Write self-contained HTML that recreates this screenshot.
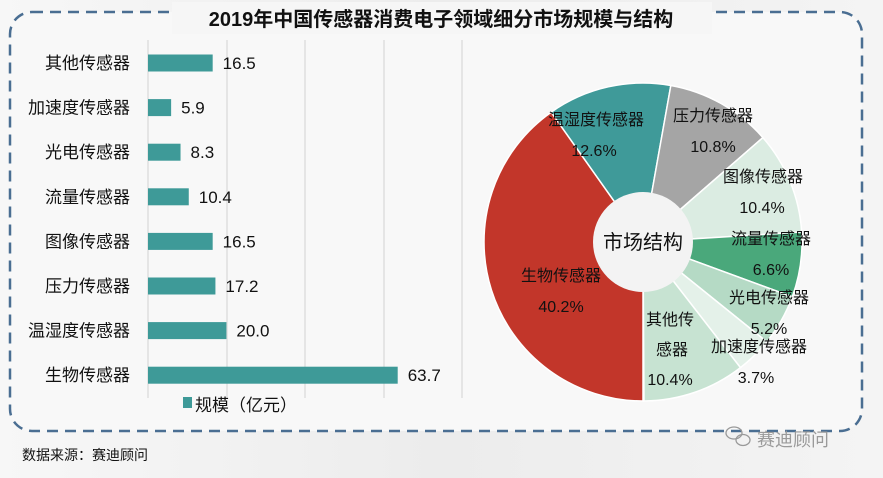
<!DOCTYPE html>
<html><head><meta charset="utf-8"><style>
html,body{margin:0;padding:0;width:883px;height:478px;overflow:hidden;background:#f1f1f1;}
svg{display:block;font-family:"Liberation Sans","Noto Sans CJK SC",sans-serif;}
</style></head><body>
<svg id="s" width="883" height="478" viewBox="0 0 883 478" xmlns="http://www.w3.org/2000/svg">
<defs><linearGradient id="bg" x1="0" y1="0" x2="1" y2="0">
<stop offset="0" stop-color="#f7f7f7"/><stop offset="0.5" stop-color="#ececec"/><stop offset="1" stop-color="#f4f4f4"/></linearGradient></defs>
<rect width="883" height="478" fill="url(#bg)"/>
<rect x="10" y="12" width="852" height="419" rx="22" fill="#f8f8f8" stroke="#4a6e92" stroke-width="2.5" stroke-dasharray="11 7"/>
<rect x="172" y="2" width="540" height="32" fill="#f6f6f6"/>
<text x="441" y="26" text-anchor="middle" font-size="20" font-weight="bold" fill="#111">2019年中国传感器消费电子领域细分市场规模与结构</text>
<g stroke="#d2d2d2" stroke-width="1">
<line x1="148" y1="40" x2="148" y2="398"/><line x1="227" y1="40" x2="227" y2="398"/>
<line x1="305" y1="40" x2="305" y2="398"/><line x1="384" y1="40" x2="384" y2="398"/><line x1="462" y1="40" x2="462" y2="398"/>
</g>
<g id="bars" font-size="17" fill="#111"></g>
<rect x="183" y="397" width="9" height="11" fill="#3e9a98"/>
<text x="195" y="411" font-size="17" fill="#111">规模（亿元）</text>
<g id="pie"></g>
<circle cx="643" cy="242" r="50" fill="#f3f3f3"/>
<text x="643" y="249" text-anchor="middle" font-size="20" fill="#111">市场结构</text>
<g font-size="16" fill="#111" text-anchor="middle">
<text x="596" y="125">温湿度传感器</text><text x="594" y="156">12.6%</text>
<text x="713" y="121">压力传感器</text><text x="713" y="152">10.8%</text>
<text x="763" y="182">图像传感器</text><text x="762" y="213">10.4%</text>
<text x="771" y="244">流量传感器</text><text x="771" y="275">6.6%</text>
<text x="769" y="303">光电传感器</text><text x="769" y="334">5.2%</text>
<text x="759" y="352">加速度传感器</text><text x="756" y="383">3.7%</text>
<text x="670" y="325">其他传</text><text x="672" y="355">感器</text><text x="670" y="385">10.4%</text>
<text x="561" y="281">生物传感器</text><text x="561" y="312">40.2%</text>
</g>
<text x="22" y="460" font-size="14" fill="#111">数据来源：赛迪顾问</text>
<g fill="none" stroke="#999" stroke-width="1.3"><ellipse cx="734" cy="433" rx="8" ry="6"/><ellipse cx="743" cy="440" rx="7" ry="5.5"/></g>
<text x="757" y="446" font-size="18" fill="#9a9a9a">赛迪顾问</text>
</svg>
<script>
var names=["其他传感器","加速度传感器","光电传感器","流量传感器","图像传感器","压力传感器","温湿度传感器","生物传感器"];
var vals=["16.5","5.9","8.3","10.4","16.5","17.2","20.0","63.7"];
var g=document.getElementById("bars");var h="";
for(var i=0;i<8;i++){var cy=63+i*44.6;var w=parseFloat(vals[i])*3.92;
h+='<text x="130" y="'+(cy+6)+'" text-anchor="end">'+names[i]+'</text>';
h+='<rect x="148" y="'+(cy-8.5)+'" width="'+w+'" height="17" fill="#3e9a98"/>';
h+='<text x="'+(148+w+10)+'" y="'+(cy+6)+'">'+vals[i]+'</text>';}
g.innerHTML=h;
var sl=[[40.2,"#c2362a"],[12.6,"#3f9a99"],[10.8,"#a5a5a5"],[10.4,"#dbece2"],[6.6,"#4aa87b"],[5.2,"#b5dac5"],[3.7,"#e4f1e9"],[10.4,"#c7e3d2"]];
var cx=643,cy=242,R=159,a=180,p="";
function pt(d,r){var t=d*Math.PI/180;return [cx+r*Math.sin(t),cy-r*Math.cos(t)];}
for(var j=0;j<sl.length;j++){var b=a+sl[j][0]*3.6;var s=pt(a,R),e=pt(b,R);
p+='<path d="M'+cx+' '+cy+' L'+s[0]+' '+s[1]+' A'+R+' '+R+' 0 '+((b-a)>180?1:0)+' 1 '+e[0]+' '+e[1]+' Z" fill="'+sl[j][1]+'" stroke="#fff" stroke-width="1.5"/>';a=b;}
document.getElementById("pie").innerHTML=p;
</script>
</body></html>
